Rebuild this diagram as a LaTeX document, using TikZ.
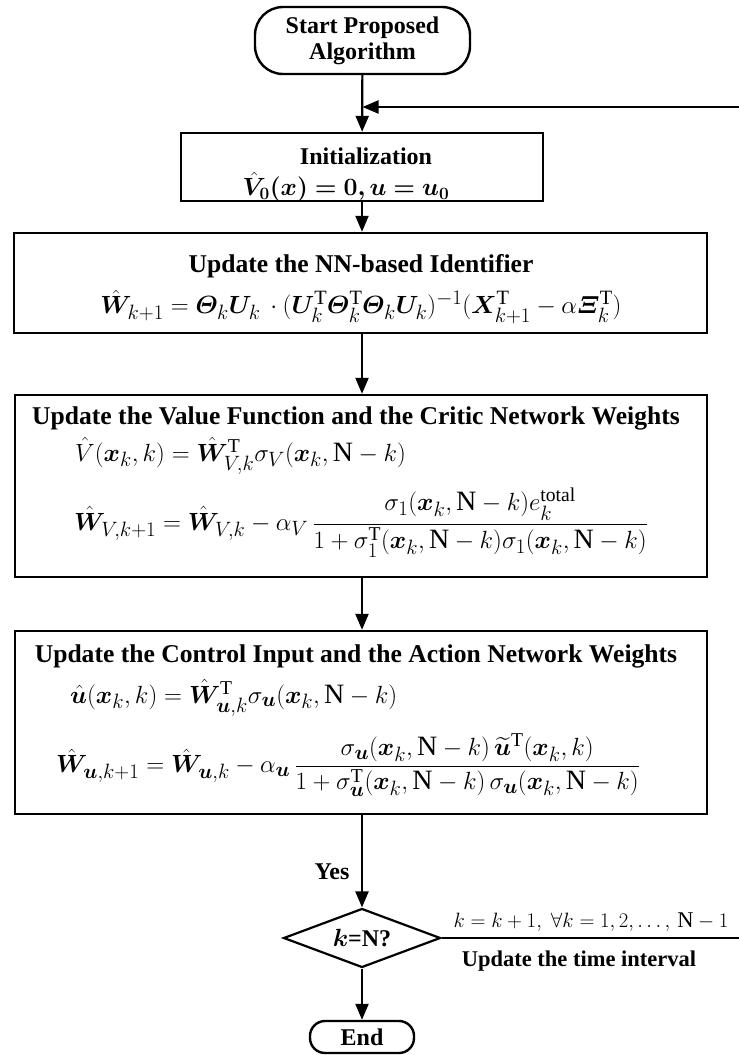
\documentclass[tikz,border=0pt]{standalone}
\usepackage{amsmath}
\usepackage{bm}
\usepackage{fontspec}
\setmainfont{Liberation Serif}
\usetikzlibrary{arrows.meta,shapes.geometric}
\newcommand{\bv}[1]{\bm{#1}}
\newcommand{\Tr}{\mathrm{T}}
\begin{document}
\begin{tikzpicture}[x=1pt,y=-1pt,
  box/.style={draw, line width=2.4pt, inner sep=0pt},
  term/.style={draw, line width=2.4pt, inner sep=0pt, rounded corners=28pt},
  flow/.style={line width=2.2pt, -{Triangle[width=13pt,length=16pt]}},
  plain/.style={line width=2.2pt},
  ttl/.style={font=\fontsize{24}{28}\selectfont\bfseries, inner sep=0pt, align=center},
  btl/.style={font=\fontsize{25.6}{30}\selectfont\bfseries, inner sep=0pt},
  eq/.style={font=\fontsize{28}{32}\selectfont, inner sep=0pt},
  eqnn/.style={font=\fontsize{29}{33}\selectfont, inner sep=0pt},
  eqbig/.style={font=\fontsize{26}{30}\selectfont, inner sep=0pt},
  lbl/.style={font=\fontsize{22.5}{26}\selectfont, inner sep=0pt},
  lblb/.style={font=\fontsize{22.5}{26}\selectfont\bfseries, inner sep=0pt},
  dia/.style={diamond, draw, line width=2.2pt, inner sep=0pt, aspect=2.66, minimum width=157pt, minimum height=59pt, font=\fontsize{24}{28}\selectfont\bfseries},
  endb/.style={draw, line width=2.4pt, inner sep=0pt, rounded corners=15pt, minimum width=104pt, minimum height=32pt, font=\fontsize{24}{28}\selectfont\bfseries}]
\useasboundingbox (0,0) rectangle (739,1055);
% boxes
\node[term, minimum width=215pt, minimum height=67pt] (start) at (362.5,40.5) {};
\node[ttl] (starttxt) at (362.5,40.5) {Start Proposed\\[-2pt]Algorithm};
\node[box, minimum width=362pt, minimum height=68pt] (init) at (362,167) {};
\node[ttl] (inittl) at (366,156) {Initialization};
\node[eqbig] (initeq) at (346,187) {$\bm{\hat{V}_{0}(x) = 0, u = u_{0}}$};
\node[box, minimum width=693pt, minimum height=100pt] (nn) at (360.5,283) {};
\node[btl] (nntl) at (361,266) {Update the NN-based Identifier};
\node[eqnn] (nneq) at (361,307) {$\hat{\bv{W}}_{k+1} = \bv{\varTheta}_k\bv{U}_k\,\cdot(\bv{U}_k^{\Tr}\bv{\varTheta}_k^{\Tr}\bv{\varTheta}_k\bv{U}_k)^{-1}(\bv{X}_{k+1}^{\Tr}-\alpha\bv{\varXi}_k^{\Tr})$};
\node[box, minimum width=692pt, minimum height=182pt] (val) at (361,486) {};
\node[btl] (valtl) at (356,418) {Update the Value Function and the Critic Network Weights};
\node[eq, anchor=west] (valeq1) at (75,456) {$\hat{V}(\bv{x}_k,k) = \hat{\bv{W}}_{V,k}^{\Tr}\sigma_V(\bv{x}_k,\mathrm{N}-k)$};
\node[eq, anchor=west] (valeq2) at (74,523) {$\hat{\bv{W}}_{V,k+1} = \hat{\bv{W}}_{V,k} - \alpha_V\,\dfrac{\sigma_1(\bv{x}_k,\mathrm{N}-k)e_k^{\mathrm{total}}}{1+\sigma_1^{\Tr}(\bv{x}_k,\mathrm{N}-k)\sigma_1(\bv{x}_k,\mathrm{N}-k)}$};
\node[box, minimum width=692pt, minimum height=183pt] (ctl) at (361,722.5) {};
\node[btl] (ctltl) at (356,656) {Update the Control Input and the Action Network Weights};
\node[eq, anchor=west] (ctleq1) at (70,698) {$\hat{\bv{u}}(\bv{x}_k,k) = \hat{\bv{W}}_{\bv{u},k}^{\Tr}\sigma_{\bv{u}}(\bv{x}_k,\mathrm{N}-k)$};
\node[eq, anchor=west] (ctleq2) at (56,765) {$\hat{\bv{W}}_{\bv{u},k+1} = \hat{\bv{W}}_{\bv{u},k} - \alpha_{\bv{u}}\,\dfrac{\sigma_{\bv{u}}(\bv{x}_k,\mathrm{N}-k)\,\widetilde{\bv{u}}^{\Tr}(\bv{x}_k,k)}{1+\sigma_{\bv{u}}^{\Tr}(\bv{x}_k,\mathrm{N}-k)\,\sigma_{\bv{u}}(\bv{x}_k,\mathrm{N}-k)}$};
\node[dia] (dec) at (362,938) {$\bv{k}$=N?};
\node[endb] (end) at (362,1037) {End};
% connectors
\draw[flow] (start) -- (init);
\coordinate (fbR) at (739,107);
\draw[flow] (fbR) -- (fbR -| start);
\draw[flow] (init) -- (nn.north -| init);
\draw[flow] (nn.south -| init) -- (val.north -| init);
\draw[flow] (val.south -| init) -- (ctl.north -| init);
\draw[flow] (ctl.south -| dec) -- (dec.north);
\draw[flow] (dec.south) -- (end.north);
\coordinate (lnR) at (739,938);
\draw[plain] (dec.east) -- (lnR);
\node[ttl] (yes) at (332,872) {Yes};
\node[lbl] (kupd) at (591,922) {$k = k+1,\ \forall k = 1,2,\ldots,\,\mathrm{N}-1$};
\node[lblb] (tupd) at (579,961) {Update the time interval};
\end{tikzpicture}
\end{document}
